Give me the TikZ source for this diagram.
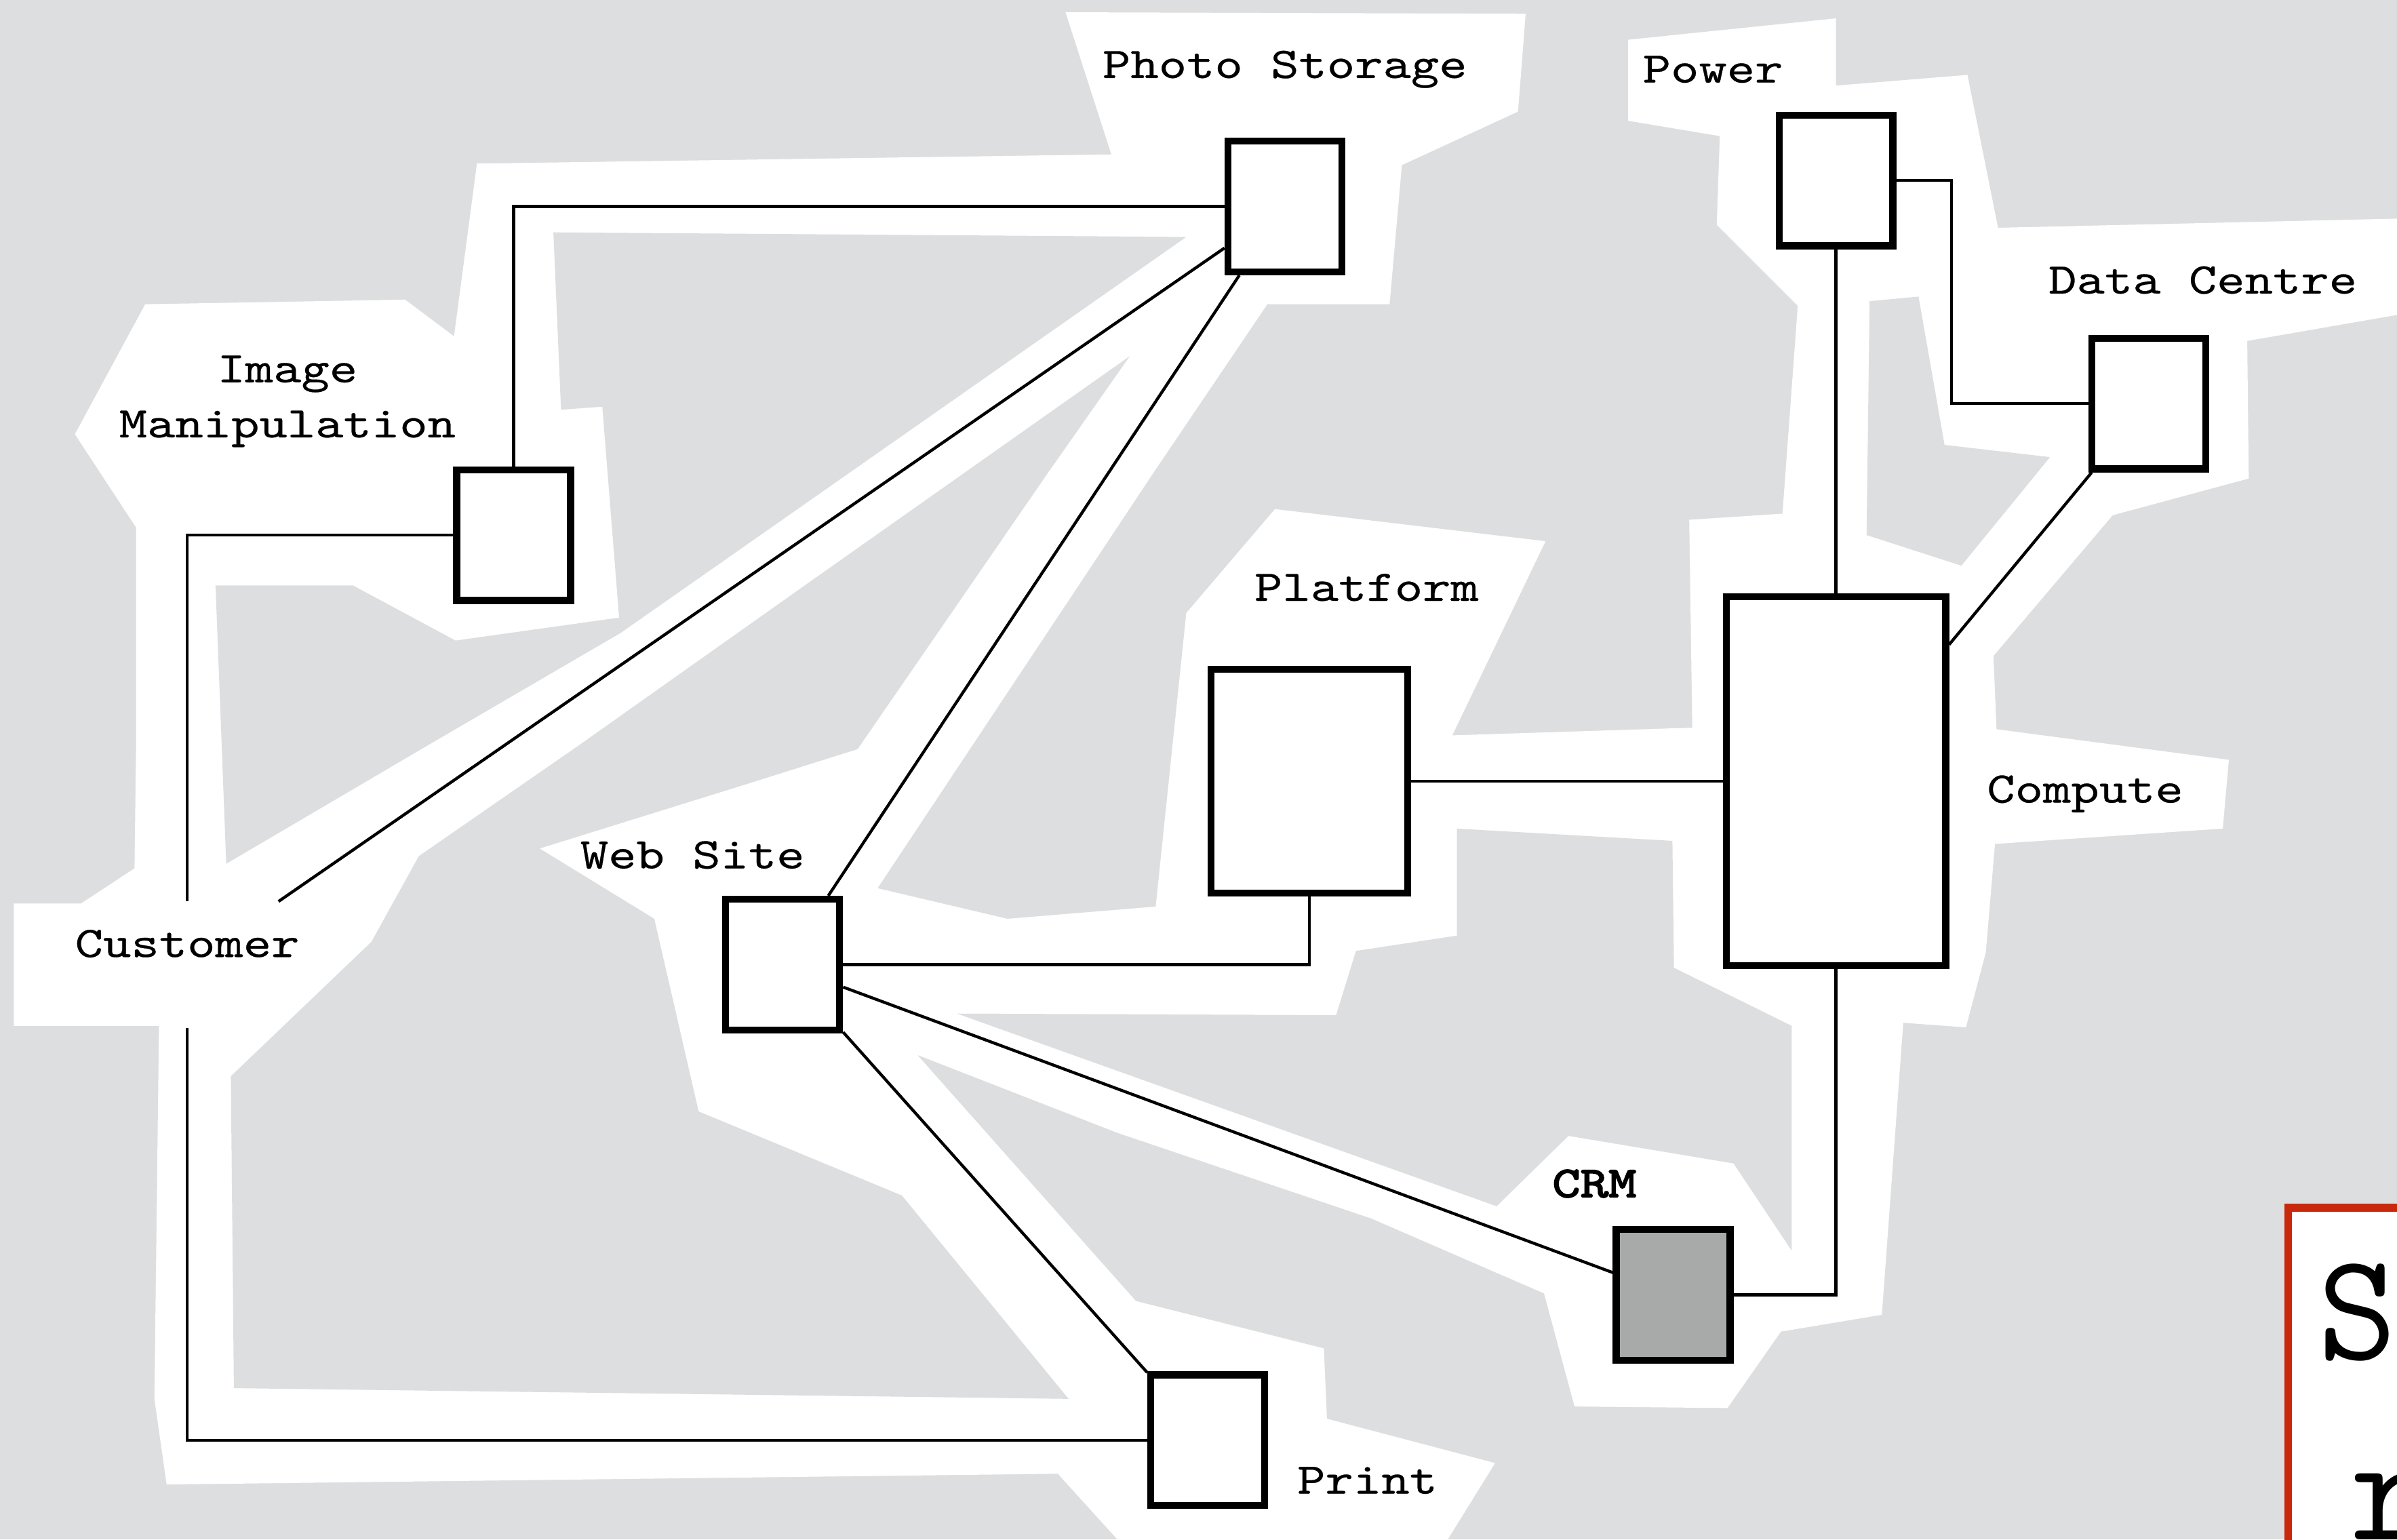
\documentclass[tikz,border=0pt]{standalone}
\usepackage{fontspec}
\newfontfamily\mapfont{lmmono10-regular.otf}[FakeStretch=1.22, FakeBold=0.4, BoldFont=lmmono10-regular.otf, BoldFeatures={FakeBold=3}]
\definecolor{MapGround}{HTML}{DDDEE0}
\definecolor{MapGrey}{HTML}{A7AAA9}
\definecolor{NoteRed}{HTML}{C8280C}
\tikzset{
mapzone/.style={fill=white},
maphole/.style={fill=MapGround},
mapbox/.style={draw=black, line width=2.6pt, fill=white, inner sep=0pt, minimum width=14.9mm, minimum height=17.1mm},
maplabel/.style={inner sep=0pt, anchor=base},
mapline/.style={draw=black, line width=1.1pt},
notebox/.style={draw=NoteRed, line width=2.8pt, fill=white, inner sep=0pt, anchor=north west, minimum width=30mm, minimum height=60mm},
notetext/.style={inner sep=0pt, anchor=base west, font=\ttfamily\fontsize{57}{60}\selectfont}
}

\begin{document}
\begin{tikzpicture}[x=0.2mm, y=-0.2mm, font=\mapfont\fontsize{16.3}{20.5}\selectfont]
  \useasboundingbox (0,0) rectangle (1568,1007);
  \clip (0,0) rectangle (1568,1007);
  \fill[MapGround] (0,0) rectangle (1568,1007);
  \fill[mapzone] (697,8) -- (998,9) -- (993,73) -- (917,108) -- (909,199) -- (829,199) -- (754,310) -- (574,581)
    -- (659,601) -- (756,593) -- (776,401) -- (834,333) -- (1011,354) -- (950,481) -- (1107,476) -- (1105,340)
    -- (1166,336) -- (1176,200) -- (1123,147) -- (1125,89) -- (1065,79) -- (1065,26) -- (1201,12) -- (1201,56)
    -- (1287,49) -- (1307,149) -- (1568,143) -- (1568,206) -- (1470,223) -- (1471,313) -- (1382,337) -- (1304,429)
    -- (1306,477) -- (1458,497) -- (1454,542) -- (1305,552) -- (1299,623) -- (1286,672) -- (1245,669) -- (1231,860)
    -- (1165,871) -- (1130,921) -- (1030,920) -- (1010,846) -- (897,797) -- (731,741) -- (600,690) -- (743,851)
    -- (866,882) -- (868,928) -- (978,957) -- (947,1007) -- (731,1007) -- (692,964) -- (109,971) -- (101,915)
    -- (104,671) -- (9,671) -- (9,591) -- (53,591) -- (88,568) -- (89,488) -- (89,345) -- (49,284) -- (95,199)
    -- (265,196) -- (297,220) -- (312,107) -- (727,101) -- cycle;
  \fill[maphole] (141,383) -- (231,383) -- (298,419) -- (405,404) -- (394,266) -- (367,268) -- (362,152)
    -- (776,155) -- (406,414) -- (279,488) -- (148,565) -- cycle;
  \fill[maphole] (1223,197) -- (1255,194) -- (1272,291) -- (1341,299) -- (1283,370) -- (1221,350) -- cycle;
  \fill[maphole] (739,233) -- (532,379) -- (378,488) -- (274,560) -- (243,616) -- (151,704) -- (153,908)
    -- (699,915) -- (590,782) -- (457,727) -- (428,601) -- (353,555) -- (488,513) -- (561,490) -- (685,310) -- cycle;
  \fill[maphole] (953,542) -- (1094,550) -- (1095,633) -- (1172,671) -- (1172,818) -- (1134,761) -- (1026,743)
    -- (979,789) -- (626,663) -- (874,664) -- (887,622) -- (953,612) -- cycle;

  \node[mapbox] (photo) at (840.5,135) {};
  \node[mapbox] (power) at (1201,118) {};
  \node[mapbox] (datacentre) at (1405.5,264) {};
  \node[mapbox] (image) at (336,350) {};
  \node[mapbox, minimum width=25.7mm, minimum height=29.3mm] (platform) at (856.5,511) {};
  \node[mapbox, minimum width=28.7mm, minimum height=48.3mm] (compute) at (1201,511) {};
  \node[mapbox] (web) at (512,631) {};
  \node[mapbox, fill=MapGrey] (crm) at (1094.5,847) {};
  \node[mapbox] (print) at (790,942) {};

  \node[maplabel] (photolbl) at (840.5,51) {Photo Storage};
  \node[maplabel] (powerlbl) at (1120.5,54) {Power};
  \node[maplabel] (datalbl) at (1441,192) {Data Centre};
  \node[inner sep=0pt, align=center] (imagelbl) at (188,262.5) {Image\\Manipulation};
  \node[maplabel] (platformlbl) at (894,393) {Platform};
  \node[maplabel] (weblbl) at (453,568) {Web Site};
  \node[maplabel, text height=7.2mm, text depth=9.2mm] (customer) at (122.5,626) {Customer};
  \node[maplabel] (computelbl) at (1364,525) {Compute};
  \node[maplabel, font=\mapfont\fontsize{16.3}{20.5}\selectfont\bfseries] (crmlbl) at (1043,783) {CRM};
  \node[maplabel] (printlbl) at (894.5,977) {Print};

  \draw[mapline] (image.north) |- (photo.west);
  \draw[mapline] (image.west) -| (customer.north);
  \draw[mapline] (customer.south) |- (print.west);
  \draw[mapline] (customer) -- (photo);
  \draw[mapline] (photo) -- (web);
  \draw[mapline] (web.east) -| (platform.south);
  \draw[mapline] (platform.east) -- (compute.west);
  \draw[mapline] (power) -- (compute);
  \draw[mapline] (power.east) -- ++(36,0) |- (datacentre.west);
  \draw[mapline] (datacentre) -- (compute);
  \draw[mapline] (web) -- (crm);
  \draw[mapline] (web) -- (print);
  \draw[mapline] (crm.east) -| (compute.south);

  \node[notebox] (note) at (1494.5,787.5) {};
  \node[notetext] (noteS) at (1516,889) {S};
  \node[notetext] (noteR) at (1537,1007) {r};
\end{tikzpicture}
\end{document}
